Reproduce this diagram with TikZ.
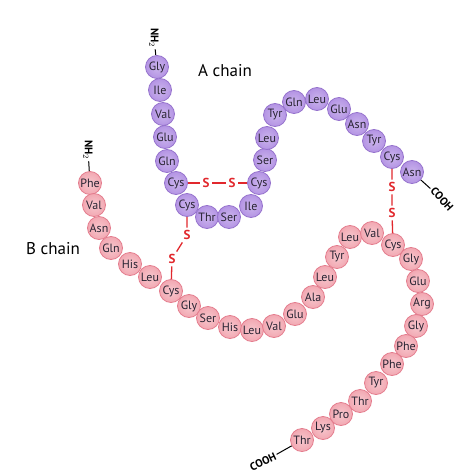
\documentclass[tikz,border=0pt]{standalone}
\usepackage{fontspec}
\setmainfont{PT Sans}
\usepackage{tikz}
\usetikzlibrary{positioning}
\definecolor{achainfill}{RGB}{180, 148, 228}
\definecolor{achainedge}{RGB}{150, 115, 205}
\definecolor{bchainfill}{RGB}{242, 168, 178}
\definecolor{bchainedge}{RGB}{228, 125, 142}
\definecolor{bondred}{RGB}{225, 40, 45}
\definecolor{labelgray}{RGB}{40, 35, 50}

\begin{document}
\begin{tikzpicture}[x=1pt, y=-1pt,
    residue/.style={circle, minimum size=23pt, inner sep=0pt, line width=0.8pt,
                    font=\fontsize{12}{12}\selectfont, text=labelgray},
    achain/.style={residue, draw=achainedge, inner color=achainfill!70!white, outer color=achainfill},
    bchain/.style={residue, draw=bchainedge, inner color=bchainfill!65!white, outer color=bchainfill},
    sulfur/.style={text=bondred, font=\bfseries\fontsize{13}{13}\selectfont, inner sep=2.5pt},
    ssbond/.style={draw=bondred, line width=1.3pt},
    terminal/.style={font=\bfseries\fontsize{11}{11}\selectfont, inner sep=1.5pt},
    endbond/.style={draw=black, line width=1pt}]
    \useasboundingbox (0,0) rectangle (466,473);

    % A chain
    \foreach \n/\x/\y/\t in {1/157/67/Gly, 2/160/90/Ile, 3/163/114/Val, 4/165/137/Glu,
        5/167/161/Gln, 6/176/183/Cys, 7/187/205/Cys, 8/207/217/Thr, 9/229/217/Ser,
        10/251/206/Ile, 11/259/183/Cys, 12/265/160/Ser, 13/267/138/Leu, 14/275/115/Tyr,
        15/294/102/Gln, 16/317/99/Leu, 17/339/109/Glu, 18/357/124/Asn, 19/374/141/Tyr,
        20/392/157/Cys, 21/412/172/Asn}
        \node[achain] (a\n) at (\x,\y) {\t};

    % B chain
    \foreach \n/\x/\y/\t in {1/90/183/Phe, 2/94/205/Val, 3/99/228/Asn, 4/111/248/Gln,
        5/130/264/His, 6/150/277/Leu, 7/171/291/Cys, 8/189/306/Gly, 9/208/318/Ser,
        10/230/327/His, 11/252/330/Leu, 12/274/326/Val, 13/295/314/Glu, 14/313/297/Ala,
        15/325/277/Leu, 16/337/257/Tyr, 17/350/237/Leu, 18/372/233/Val, 19/393/245/Cys,
        20/411/259/Gly, 21/418/281/Glu, 22/422/304/Arg, 23/416/326/Gly, 24/406/346/Phe,
        25/392/364/Phe, 26/376/383/Tyr, 27/360/401/Thr, 28/341/414/Pro, 29/323/428/Lys,
        30/302/440/Thr}
        \node[bchain] (b\n) at (\x,\y) {\t};

    % disulfide bridges
    \node[sulfur] (s1) at (206,183) {S};
    \node[sulfur] (s2) at (232,183) {S};
    \node[sulfur] (s3) at (187,235) {S};
    \node[sulfur] (s4) at (172,259) {S};
    \node[sulfur] (s5) at (392,187) {S};
    \node[sulfur] (s6) at (392,213) {S};
    \draw[ssbond] (a6) -- (s1) -- (s2) -- (a11);
    \draw[ssbond] (a7) -- (s3) -- (s4) -- (b7);
    \draw[ssbond] (a20) -- (s5) -- (s6) -- (b19);

    % ends of the chains
    \node[terminal, rotate=-90] (nha) at (154,38) {NH$_2$};
    \node[terminal, rotate=-90] (nhb) at (88,150) {NH$_2$};
    \node[terminal, rotate=-48] (cooha) at (442,199) {COOH};
    \node[terminal, rotate=25] (coohb) at (263,462) {COOH};
    \draw[endbond] (nha) -- (a1);
    \draw[endbond] (nhb) -- (b1);
    \draw[endbond] (a21) -- (cooha);
    \draw[endbond] (b30) -- (coohb);

    % chain names
    \node[font=\fontsize{17}{17}\selectfont] (alabel) at (225,71) {A chain};
    \node[font=\fontsize{17}{17}\selectfont] (blabel) at (53,249) {B chain};
\end{tikzpicture}
\end{document}
